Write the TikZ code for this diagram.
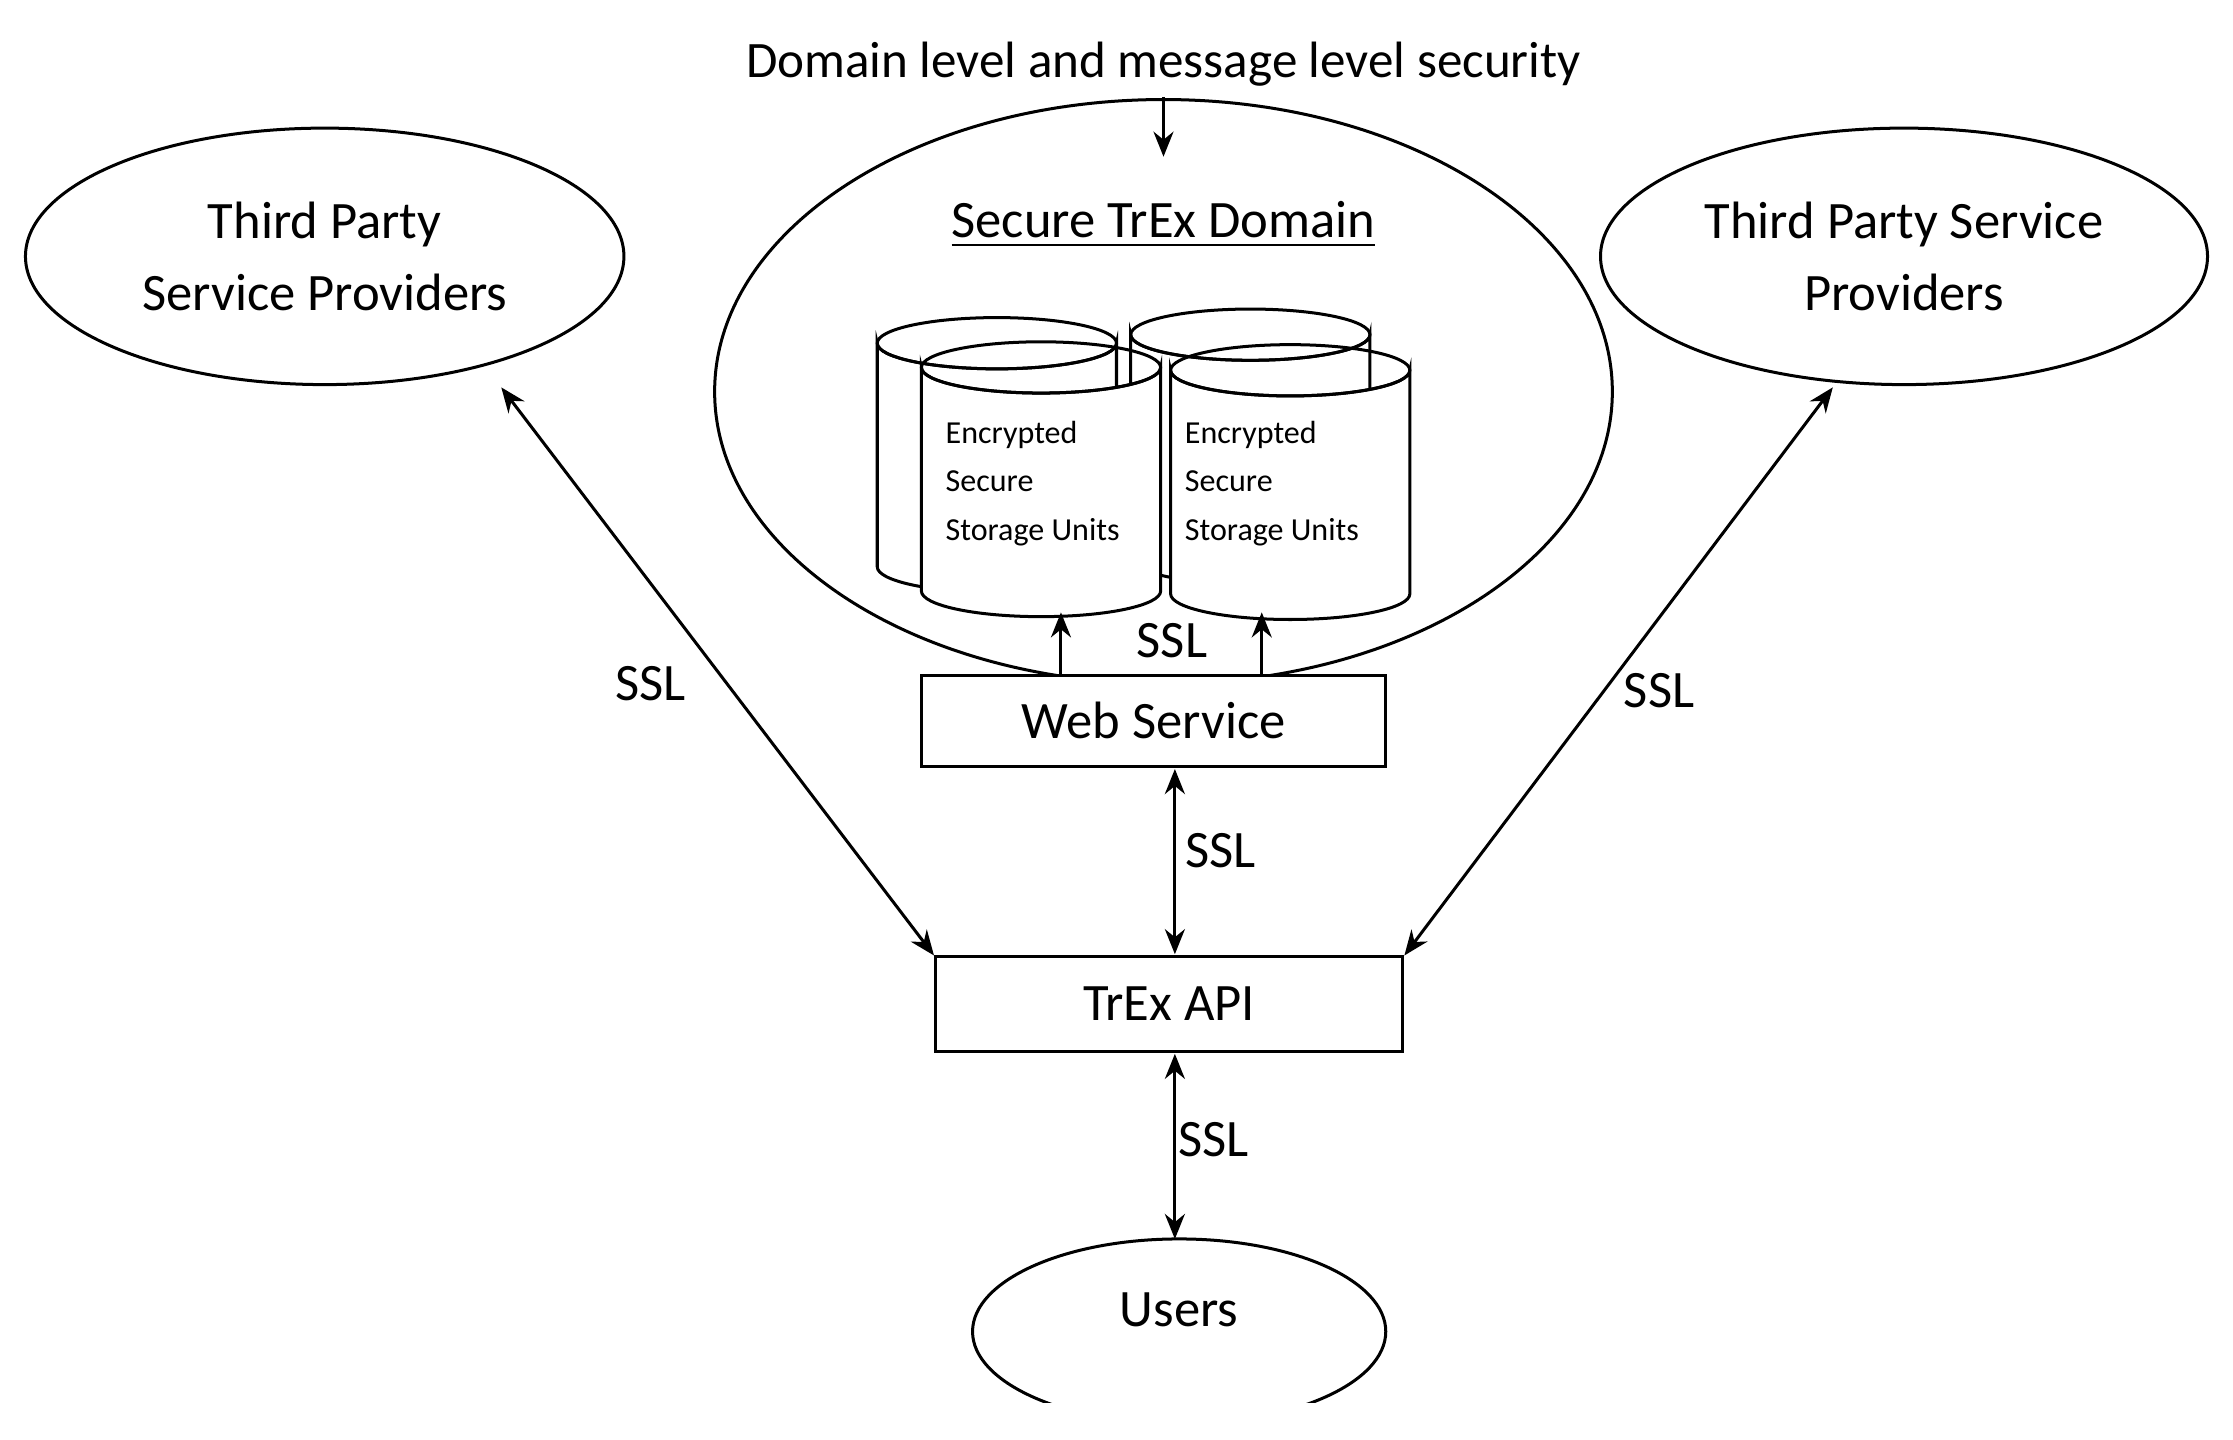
\documentclass[tikz,border=0pt]{standalone}
\usepackage{fontspec}
\setmainfont{Carlito}
\usetikzlibrary{arrows.meta,shapes.geometric}
\begin{document}
\begin{tikzpicture}[x=0.01cm,y=-0.01cm,
  line width=0.6pt,
  tip/.tip={Stealth[length=5pt,width=4pt]},
  conn/.style={-tip},
  bi/.style={tip-tip},
  lbl/.style={font=\fontsize{10.5}{12}\selectfont},
  ell/.style={draw,ellipse,inner sep=0pt,align=center,font=\fontsize{10.5}{14.5}\selectfont},
  box/.style={draw,inner sep=0pt,font=\fontsize{10.5}{13}\selectfont},
  cyltxt/.style={font=\fontsize{6.4}{9.6}\selectfont,align=left,anchor=north west,inner sep=0pt},
  pics/cyl/.style={code={
    \filldraw[fill=white] (-84,0) -- (-84,157) arc[start angle=180,end angle=0,x radius=84,y radius=18] -- (84,0) arc[start angle=0,end angle=180,x radius=84,y radius=18] -- cycle;
    \draw (0,0) ellipse[x radius=84,y radius=18];
  }}]
\useasboundingbox (0,0) rectangle (1568,1011);
\fill[white] (0,0) rectangle (1568,1011);

\node[font=\fontsize{10.2}{13}\selectfont] (title) at (817,45) {Domain level and message level security};
\node[ell,minimum width=6.3cm,minimum height=4.1cm] (dom) at (817,275) {};
\coordinate (domtop) at (817,110);
\draw[conn] (817,68) -- (domtop);
\node[font=\fontsize{10.5}{13}\selectfont] (domlbl) at (817,158) {\underline{Secure TrEx Domain}};

\node[ell,minimum width=4.2cm,minimum height=1.8cm] (tpl) at (228,180) {Third Party\\Service Providers};
\node[ell,minimum width=4.26cm,minimum height=1.8cm] (tpr) at (1337,180) {Third Party Service\\Providers};

% cylinders
\pic at (700,241) {cyl};
\pic at (878,235) {cyl};
\pic at (731,258) {cyl};
\pic at (906,260) {cyl};
\node[cyltxt] (c1) at (663,295) {Encrypted\\Secure\\Storage Units};
\node[cyltxt] (c2) at (831,295) {Encrypted\\Secure\\Storage Units};
\coordinate (c1b) at (745,430);
\coordinate (c2b) at (886,430);

\node[box,minimum width=3.26cm,minimum height=0.64cm,fill=white] (ws) at (810,506) {Web Service};
\node[box,minimum width=3.28cm,minimum height=0.66cm] (api) at (821,705) {TrEx API};

\begin{scope}
\clip (600,860) rectangle (1100,985);
\node[ell,minimum width=2.9cm,minimum height=1.3cm] (users) at (828,935) {};
\end{scope}
\node[font=\fontsize{10.5}{13}\selectfont] (ulbl) at (828,920) {Users};

\draw[conn] (ws.north -| c1b) -- (c1b);
\draw[conn] (ws.north -| c2b) -- (c2b);
\node[lbl] at (823,450) {SSL};

\draw[bi] (825,540) -- (825,670);
\node[lbl] at (857,597) {SSL};
\draw[bi] (352,272) -- (api.north west);
\node[lbl] at (457,480) {SSL};
\draw[bi] (1287,272) -- (api.north east);
\node[lbl] at (1165,485) {SSL};
\draw[bi] (825,740) -- (825,870);
\node[lbl] at (852,800) {SSL};
\end{tikzpicture}
\end{document}
